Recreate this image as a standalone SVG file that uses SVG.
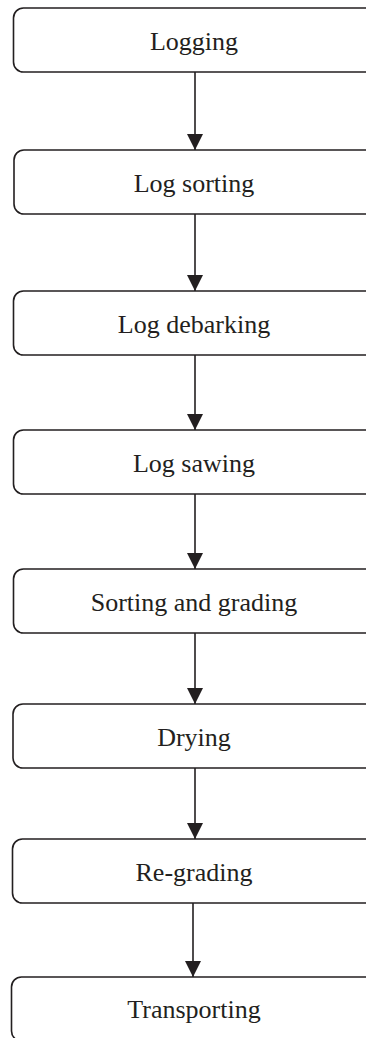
<svg xmlns="http://www.w3.org/2000/svg" width="366" height="1038" viewBox="0 0 366 1038">
  <style>
    .box { fill: #ffffff; stroke: #231f20; stroke-width: 1.6; }
    .label { font-family: "Liberation Serif", "Times New Roman", serif; font-size: 26px; fill: #231f20; text-anchor: middle; }
    .flow { stroke: #231f20; stroke-width: 1.6; fill: none; marker-end: url(#head); }
  </style>
  <defs>
    <!-- filled arrowhead, tip at the end of the line -->
    <marker id="head" markerUnits="userSpaceOnUse" markerWidth="16" markerHeight="16" viewBox="0 0 16 16" refX="16" refY="8" orient="auto">
      <path d="M0,0 L16,8 L0,16 Z" fill="#231f20"/>
    </marker>
  </defs>
  <rect width="366" height="1038" fill="#ffffff"/>

  <g id="connectors">
    <line class="flow" x1="195" y1="72" x2="195" y2="150"/>
    <line class="flow" x1="195" y1="214" x2="195" y2="291"/>
    <line class="flow" x1="195" y1="355" x2="195" y2="430"/>
    <line class="flow" x1="195" y1="494" x2="195" y2="569"/>
    <line class="flow" x1="195" y1="633" x2="195" y2="704"/>
    <line class="flow" x1="195" y1="768" x2="195" y2="839"/>
    <line class="flow" x1="193" y1="903" x2="193" y2="977"/>
  </g>

  <g id="logging">
    <rect class="box" x="13.5" y="8" width="370" height="64" rx="10"/>
    <text class="label" x="194" y="50">Logging</text>
  </g>
  <g id="log-sorting">
    <rect class="box" x="14" y="150" width="370" height="64" rx="10"/>
    <text class="label" x="194" y="192">Log sorting</text>
  </g>
  <g id="log-debarking">
    <rect class="box" x="13.5" y="291" width="370" height="64" rx="10"/>
    <text class="label" x="194" y="333">Log debarking</text>
  </g>
  <g id="log-sawing">
    <rect class="box" x="13.5" y="430" width="370" height="64" rx="10"/>
    <text class="label" x="194" y="472">Log sawing</text>
  </g>
  <g id="sorting-grading">
    <rect class="box" x="13.5" y="569" width="370" height="64" rx="10"/>
    <text class="label" x="194" y="611">Sorting and grading</text>
  </g>
  <g id="drying">
    <rect class="box" x="13" y="704" width="370" height="64" rx="10"/>
    <text class="label" x="194" y="746">Drying</text>
  </g>
  <g id="re-grading">
    <rect class="box" x="12.5" y="839" width="370" height="64" rx="10"/>
    <text class="label" x="194" y="881">Re-grading</text>
  </g>
  <g id="transporting">
    <rect class="box" x="11.5" y="977" width="370" height="64" rx="10"/>
    <text class="label" x="194" y="1018">Transporting</text>
  </g>
</svg>
